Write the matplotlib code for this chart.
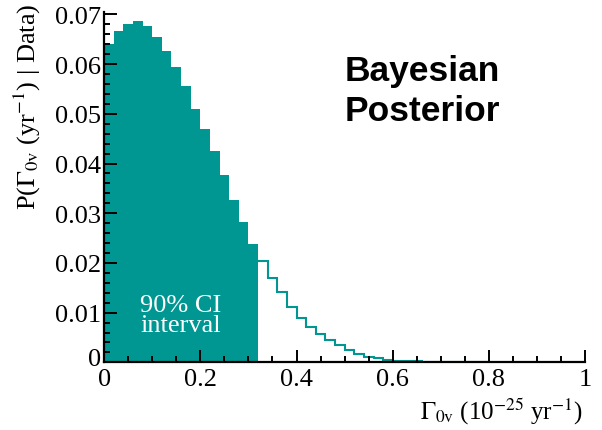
import numpy as np
import matplotlib
matplotlib.use("Agg")
import matplotlib.pyplot as plt
import matplotlib.transforms as mtransforms
from matplotlib.ticker import MultipleLocator

plt.rcParams['font.family'] = ['Liberation Serif', 'DejaVu Serif']
plt.rcParams['mathtext.fontset'] = 'stix'

# posterior histogram, bin width 0.02 from 0 to 0.8
bin_width = 0.02
posterior = [0.0641, 0.0666, 0.0681, 0.0686, 0.0676, 0.0654, 0.0626, 0.0595,
             0.0556, 0.0510, 0.0470, 0.0426, 0.0376, 0.0326, 0.0282, 0.0238,
             0.0203, 0.0169, 0.0141, 0.0112, 0.0089, 0.0071, 0.0057, 0.0045,
             0.0034, 0.0025, 0.0017, 0.0011, 0.0008, 0.0005, 0.0003, 0.0002,
             0.0002, 0.0001, 0.0001, 0.0001, 0.0, 0.0, 0.0, 0.0]
n_ci = 16  # bins inside the 90% credible interval
edges = np.arange(len(posterior) + 1) * bin_width

xticks = [0, 0.2, 0.4, 0.6, 0.8, 1.0]
xticklabels = ['0', '0.2', '0.4', '0.6', '0.8', '1']
yticks = [0, 0.01, 0.02, 0.03, 0.04, 0.05, 0.06, 0.07]
yticklabels = ['0', '0.01', '0.02', '0.03', '0.04', '0.05', '0.06', '0.07']

teal = '#009692'

fig = plt.figure(figsize=(6.02, 4.31), dpi=100)
ax = fig.add_axes([0.173, 0.157, 0.799, 0.813])

ax.stairs(posterior[:n_ci], edges[:n_ci + 1], fill=True, color=teal)
ax.stairs(posterior[n_ci:], edges[n_ci:], baseline=None, color=teal, linewidth=1.5)

ax.set_xlim(0, 1)
ax.set_ylim(0, 0.0705)
ax.set_xticks(xticks)
ax.set_xticklabels(xticklabels)
ax.set_yticks(yticks)
ax.set_yticklabels(yticklabels)
ax.xaxis.set_minor_locator(MultipleLocator(0.05))
ax.yaxis.set_minor_locator(MultipleLocator(0.002))
ax.tick_params(which='both', direction='in', width=1.4, labelsize=19)
ax.tick_params(which='major', length=9)
ax.tick_params(which='minor', length=4.5)
ax.tick_params(axis='y', pad=2)
ax.tick_params(axis='x', pad=4)
for s in ['top', 'right']:
    ax.spines[s].set_visible(False)
for s in ['left', 'bottom']:
    ax.spines[s].set_linewidth(1.6)

# nudge the y-axis "0" up a little, as in the original
lab0 = ax.get_yticklabels()[0]
lab0.set_transform(lab0.get_transform() +
                   mtransforms.ScaledTranslation(0, 6 / 100, fig.dpi_scale_trans))

ax.text(0.16, 0.0104, '90% CI', color='white', fontsize=19,
        ha='center', va='baseline')
ax.text(0.16, 0.0064, 'interval', color='white', fontsize=19,
        ha='center', va='baseline')

fig.text(345 / 602, 1 - 81 / 431, 'Bayesian', fontsize=25.5, fontweight='bold',
         family='Liberation Sans', ha='left', va='baseline')
fig.text(345 / 602, 1 - 121 / 431, 'Posterior', fontsize=25.5, fontweight='bold',
         family='Liberation Sans', ha='left', va='baseline')

fig.text(583 / 602, 1 - 420 / 431,
         r'$\Gamma_{\mathrm{0v}}$ (10$^{\mathrm{-25}}$ yr$^{\mathrm{-1}}$)',
         fontsize=18, ha='right', va='baseline')
fig.text(27 / 602, 1 - 3 / 431,
         r'P($\Gamma_{\mathrm{0v}}$ (yr$^{\mathrm{-1}}$) | Data)',
         fontsize=19, rotation=90, ha='center', va='top')

fig.savefig('out.png', dpi=100)
